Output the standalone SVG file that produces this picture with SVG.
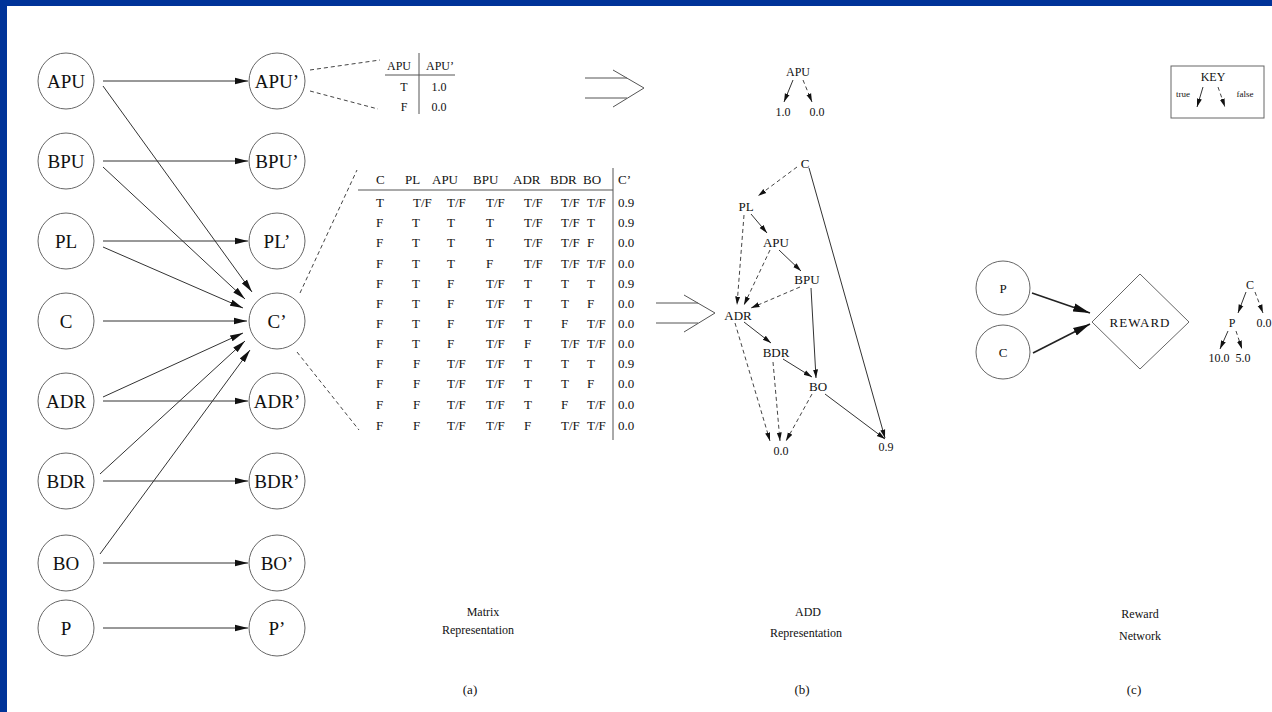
<svg xmlns="http://www.w3.org/2000/svg" width="1272" height="712" viewBox="0 0 1272 712">
<defs>
<marker id="ah" markerUnits="userSpaceOnUse" markerWidth="14" markerHeight="8" refX="13" refY="4" orient="auto"><path d="M0,0.8 L13,4 L0,7.2 z" fill="#111"/></marker>
<marker id="sm" markerUnits="userSpaceOnUse" markerWidth="9" markerHeight="7" refX="8.5" refY="3.5" orient="auto"><path d="M0,1 L8.5,3.5 L0,6 z" fill="#111"/></marker>
<marker id="big" markerUnits="userSpaceOnUse" markerWidth="18" markerHeight="10" refX="17" refY="5" orient="auto"><path d="M0,0.8 L17,5 L0,9.2 z" fill="#111"/></marker>
</defs>
<style>
.nd{fill:#fff;stroke:#666;stroke-width:1}
.lb{font-family:'Liberation Serif',serif;font-size:19px;fill:#111;text-anchor:middle}
.e{stroke:#333;stroke-width:1;fill:none}
.eb{stroke:#222;stroke-width:1.6;fill:none}
.d{stroke:#444;stroke-width:1;stroke-dasharray:4,3;fill:none}
.t{font-family:'Liberation Serif',serif;font-size:13px;fill:#111}
.a{font-family:'Liberation Serif',serif;font-size:13px;fill:#111;text-anchor:middle}
.s{font-family:'Liberation Serif',serif;font-size:12px;fill:#111;text-anchor:middle}
.k{font-family:'Liberation Serif',serif;font-size:9px;fill:#111;text-anchor:middle}
.g{stroke:#555;stroke-width:1;fill:none}
</style>
<rect x="0" y="0" width="1272" height="712" fill="#003399"/>
<rect x="7" y="6" width="1265" height="706" fill="#fff"/>

<!-- left column nodes -->
<g id="n-APU"><circle class="nd" cx="66" cy="81" r="28"/><text class="lb" x="66" y="88">APU</text></g>
<g id="n-BPU"><circle class="nd" cx="66" cy="161" r="28"/><text class="lb" x="66" y="168">BPU</text></g>
<g id="n-PL"><circle class="nd" cx="66" cy="241" r="28"/><text class="lb" x="66" y="248">PL</text></g>
<g id="n-C"><circle class="nd" cx="66" cy="321" r="28"/><text class="lb" x="66" y="328">C</text></g>
<g id="n-ADR"><circle class="nd" cx="66" cy="401" r="28"/><text class="lb" x="66" y="408">ADR</text></g>
<g id="n-BDR"><circle class="nd" cx="66" cy="481" r="28"/><text class="lb" x="66" y="488">BDR</text></g>
<g id="n-BO"><circle class="nd" cx="66" cy="563" r="28"/><text class="lb" x="66" y="570">BO</text></g>
<g id="n-P"><circle class="nd" cx="66" cy="628" r="28"/><text class="lb" x="66" y="635">P</text></g>

<!-- right column nodes -->
<g id="n-APU2"><circle class="nd" cx="277" cy="81" r="28"/><text class="lb" x="277" y="88">APU’</text></g>
<g id="n-BPU2"><circle class="nd" cx="277" cy="161" r="28"/><text class="lb" x="277" y="168">BPU’</text></g>
<g id="n-PL2"><circle class="nd" cx="277" cy="241" r="28"/><text class="lb" x="277" y="248">PL’</text></g>
<g id="n-C2"><circle class="nd" cx="277" cy="321" r="28"/><text class="lb" x="277" y="328">C’</text></g>
<g id="n-ADR2"><circle class="nd" cx="277" cy="401" r="28"/><text class="lb" x="277" y="408">ADR’</text></g>
<g id="n-BDR2"><circle class="nd" cx="277" cy="481" r="28"/><text class="lb" x="277" y="488">BDR’</text></g>
<g id="n-BO2"><circle class="nd" cx="277" cy="563" r="28"/><text class="lb" x="277" y="570">BO’</text></g>
<g id="n-P2"><circle class="nd" cx="277" cy="628" r="28"/><text class="lb" x="277" y="635">P’</text></g>

<!-- connectors of the DBN -->
<g id="connectors">
<line class="e" x1="103" y1="81" x2="248" y2="81" marker-end="url(#ah)"/>
<line class="e" x1="103" y1="161" x2="248" y2="161" marker-end="url(#ah)"/>
<line class="e" x1="103" y1="241" x2="248" y2="241" marker-end="url(#ah)"/>
<line class="e" x1="103" y1="321" x2="247" y2="321" marker-end="url(#ah)"/>
<line class="e" x1="103" y1="401" x2="248" y2="401" marker-end="url(#ah)"/>
<line class="e" x1="103" y1="481" x2="248" y2="481" marker-end="url(#ah)"/>
<line class="e" x1="103" y1="563" x2="248" y2="563" marker-end="url(#ah)"/>
<line class="e" x1="103" y1="628" x2="248" y2="628" marker-end="url(#ah)"/>
<line class="e" x1="103" y1="86" x2="252" y2="292" marker-end="url(#ah)"/>
<line class="e" x1="103" y1="167" x2="245" y2="299" marker-end="url(#ah)"/>
<line class="e" x1="103" y1="247" x2="243" y2="308" marker-end="url(#ah)"/>
<line class="e" x1="103" y1="397" x2="243" y2="333" marker-end="url(#ah)"/>
<line class="e" x1="100" y1="474" x2="245" y2="341" marker-end="url(#ah)"/>
<line class="e" x1="100" y1="554" x2="250" y2="350" marker-end="url(#ah)"/>
<line class="d" x1="310" y1="70" x2="380" y2="60"/>
<line class="d" x1="310" y1="91" x2="378" y2="109"/>
<line class="d" x1="300" y1="293" x2="357" y2="170"/>
<line class="d" x1="297" y1="352" x2="359" y2="430"/>
</g>

<!-- small APU table -->
<g id="apu-table">
<text class="s" x="399" y="70" font-size="12.5">APU</text>
<text class="s" x="440" y="70" font-size="12.5">APU’</text>
<line class="g" x1="385" y1="75" x2="455" y2="75" stroke-width="1.5"/>
<line class="g" x1="419" y1="53" x2="419" y2="114"/>
<text class="s" x="404" y="91" font-size="12.5">T</text>
<text class="s" x="439" y="91" font-size="12.5">1.0</text>
<text class="s" x="404" y="111" font-size="12.5">F</text>
<text class="s" x="439" y="111" font-size="12.5">0.0</text>
</g>

<!-- double arrows -->
<g id="implies-1" class="g"><line x1="585" y1="78" x2="627" y2="78"/><line x1="585" y1="98" x2="627" y2="98"/><polyline points="613,70 644,88 613,107"/></g>
<g id="implies-2" class="g"><line x1="656" y1="303" x2="698" y2="303"/><line x1="656" y1="323" x2="698" y2="323"/><polyline points="684,295 715,313 684,332"/></g>

<!-- matrix table -->
<g id="matrix">
<line class="g" x1="358" y1="190" x2="613" y2="190" stroke-width="1.5"/>
<line class="g" x1="613" y1="168" x2="613" y2="440"/>
<text class="t" y="184"><tspan x="376">C</tspan><tspan x="405">PL</tspan><tspan x="432">APU</tspan><tspan x="473">BPU</tspan><tspan x="513">ADR</tspan><tspan x="550">BDR</tspan><tspan x="583">BO</tspan><tspan x="618">C’</tspan></text>
<text class="t" y="207"><tspan x="376">T</tspan><tspan x="413">T/F</tspan><tspan x="447">T/F</tspan><tspan x="486">T/F</tspan><tspan x="524">T/F</tspan><tspan x="561">T/F</tspan><tspan x="587">T/F</tspan><tspan x="618">0.9</tspan></text>
<text class="t" y="227"><tspan x="376">F</tspan><tspan x="412">T</tspan><tspan x="447">T</tspan><tspan x="486">T</tspan><tspan x="524">T/F</tspan><tspan x="561">T/F</tspan><tspan x="587">T</tspan><tspan x="618">0.9</tspan></text>
<text class="t" y="247"><tspan x="376">F</tspan><tspan x="412">T</tspan><tspan x="447">T</tspan><tspan x="486">T</tspan><tspan x="524">T/F</tspan><tspan x="561">T/F</tspan><tspan x="587">F</tspan><tspan x="618">0.0</tspan></text>
<text class="t" y="268"><tspan x="376">F</tspan><tspan x="412">T</tspan><tspan x="447">T</tspan><tspan x="486">F</tspan><tspan x="524">T/F</tspan><tspan x="561">T/F</tspan><tspan x="587">T/F</tspan><tspan x="618">0.0</tspan></text>
<text class="t" y="288"><tspan x="376">F</tspan><tspan x="412">T</tspan><tspan x="447">F</tspan><tspan x="486">T/F</tspan><tspan x="524">T</tspan><tspan x="561">T</tspan><tspan x="587">T</tspan><tspan x="618">0.9</tspan></text>
<text class="t" y="308"><tspan x="376">F</tspan><tspan x="412">T</tspan><tspan x="447">F</tspan><tspan x="486">T/F</tspan><tspan x="524">T</tspan><tspan x="561">T</tspan><tspan x="587">F</tspan><tspan x="618">0.0</tspan></text>
<text class="t" y="328"><tspan x="376">F</tspan><tspan x="412">T</tspan><tspan x="447">F</tspan><tspan x="486">T/F</tspan><tspan x="524">T</tspan><tspan x="561">F</tspan><tspan x="587">T/F</tspan><tspan x="618">0.0</tspan></text>
<text class="t" y="348"><tspan x="376">F</tspan><tspan x="412">T</tspan><tspan x="447">F</tspan><tspan x="486">T/F</tspan><tspan x="524">F</tspan><tspan x="561">T/F</tspan><tspan x="587">T/F</tspan><tspan x="618">0.0</tspan></text>
<text class="t" y="368"><tspan x="376">F</tspan><tspan x="413">F</tspan><tspan x="447">T/F</tspan><tspan x="486">T/F</tspan><tspan x="524">T</tspan><tspan x="561">T</tspan><tspan x="587">T</tspan><tspan x="618">0.9</tspan></text>
<text class="t" y="388"><tspan x="376">F</tspan><tspan x="413">F</tspan><tspan x="447">T/F</tspan><tspan x="486">T/F</tspan><tspan x="524">T</tspan><tspan x="561">T</tspan><tspan x="587">F</tspan><tspan x="618">0.0</tspan></text>
<text class="t" y="409"><tspan x="376">F</tspan><tspan x="413">F</tspan><tspan x="447">T/F</tspan><tspan x="486">T/F</tspan><tspan x="524">T</tspan><tspan x="561">F</tspan><tspan x="587">T/F</tspan><tspan x="618">0.0</tspan></text>
<text class="t" y="430"><tspan x="376">F</tspan><tspan x="413">F</tspan><tspan x="447">T/F</tspan><tspan x="486">T/F</tspan><tspan x="524">F</tspan><tspan x="561">T/F</tspan><tspan x="587">T/F</tspan><tspan x="618">0.0</tspan></text>
</g>

<!-- small APU ADD -->
<g id="add-apu">
<text class="s" x="798" y="76" font-size="13">APU</text>
<text class="s" x="783" y="116">1.0</text>
<text class="s" x="817" y="116">0.0</text>
<line class="e" x1="793" y1="80" x2="784" y2="102" marker-end="url(#sm)"/>
<line class="d" x1="803" y1="80" x2="812" y2="102" stroke-dasharray="3,2" marker-end="url(#sm)"/>
</g>

<!-- KEY -->
<g id="key">
<rect x="1171" y="66" width="93" height="52" fill="#fff" stroke="#666" stroke-width="1"/>
<text class="s" x="1213" y="81" font-size="13">KEY</text>
<text class="k" x="1183" y="97">true</text>
<text class="k" x="1245" y="97">false</text>
<line class="e" x1="1203" y1="87" x2="1197" y2="107" marker-end="url(#sm)"/>
<line class="d" x1="1218" y1="87" x2="1225" y2="107" stroke-dasharray="3,2" marker-end="url(#sm)"/>
</g>

<!-- ADD for C' -->
<g id="add-C"><text class="a" x="805" y="168">C</text></g>
<g id="add-PL"><text class="a" x="746" y="211">PL</text></g>
<g id="add-APU"><text class="a" x="776" y="247">APU</text></g>
<g id="add-BPU"><text class="a" x="807" y="284">BPU</text></g>
<g id="add-ADR"><text class="a" x="738" y="320">ADR</text></g>
<g id="add-BDR"><text class="a" x="776" y="357">BDR</text></g>
<g id="add-BO"><text class="a" x="818" y="391">BO</text></g>
<g id="add-00"><text class="s" x="781" y="455">0.0</text></g>
<g id="add-09"><text class="s" x="886" y="451">0.9</text></g>
<g id="add-connectors">
<line class="d" x1="797" y1="167" x2="758" y2="196" marker-end="url(#sm)"/>
<line class="e" x1="809" y1="168" x2="885" y2="438" marker-end="url(#sm)"/>
<line class="e" x1="751" y1="214" x2="767" y2="233" marker-end="url(#sm)"/>
<line class="d" x1="744" y1="215" x2="737" y2="305" marker-end="url(#sm)"/>
<line class="e" x1="779" y1="250" x2="801" y2="271" marker-end="url(#sm)"/>
<line class="d" x1="770" y1="250" x2="744" y2="305" marker-end="url(#sm)"/>
<line class="d" x1="800" y1="287" x2="751" y2="308" marker-end="url(#sm)"/>
<line class="e" x1="811" y1="288" x2="816" y2="378" marker-end="url(#sm)"/>
<line class="e" x1="744" y1="322" x2="771" y2="343" marker-end="url(#sm)"/>
<line class="d" x1="735" y1="323" x2="770" y2="441" marker-end="url(#sm)"/>
<line class="e" x1="783" y1="359" x2="812" y2="377" marker-end="url(#sm)"/>
<line class="d" x1="773" y1="362" x2="780" y2="441" marker-end="url(#sm)"/>
<line class="d" x1="812" y1="394" x2="786" y2="441" marker-end="url(#sm)"/>
<line class="e" x1="825" y1="394" x2="885" y2="439" marker-end="url(#sm)"/>
</g>

<!-- reward network -->
<g id="r-P"><circle class="nd" cx="1003" cy="288" r="27"/><text class="a" x="1003" y="293" font-size="14">P</text></g>
<g id="r-C"><circle class="nd" cx="1003" cy="352" r="27"/><text class="a" x="1003" y="357" font-size="14">C</text></g>
<g id="r-REWARD"><polygon points="1092,322 1140,274 1189,322 1140,369" fill="#fff" stroke="#666" stroke-width="1"/><text class="a" x="1140" y="327" font-size="12" letter-spacing="1">REWARD</text></g>
<g id="reward-connectors">
<line class="eb" x1="1032" y1="293" x2="1090" y2="313" marker-end="url(#big)"/>
<line class="eb" x1="1033" y1="353" x2="1090" y2="324" marker-end="url(#big)"/>
</g>
<g id="reward-add">
<text class="s" x="1250" y="289">C</text>
<text class="s" x="1232" y="327">P</text>
<text class="s" x="1264" y="327" text-anchor="start">0.0</text>
<text class="s" x="1219" y="362">10.0</text>
<text class="s" x="1243" y="362">5.0</text>
<line class="e" x1="1246" y1="292" x2="1238" y2="313" marker-end="url(#sm)"/>
<line class="d" x1="1255" y1="292" x2="1263" y2="313" stroke-dasharray="3,2" marker-end="url(#sm)"/>
<line class="e" x1="1228" y1="331" x2="1220" y2="349" marker-end="url(#sm)"/>
<line class="d" x1="1236" y1="331" x2="1242" y2="349" stroke-dasharray="3,2" marker-end="url(#sm)"/>
</g>

<!-- captions -->
<g id="captions">
<text class="s" x="483" y="616">Matrix</text>
<text class="s" x="478" y="634">Representation</text>
<text class="a" x="470" y="694">(a)</text>
<text class="s" x="808" y="616">ADD</text>
<text class="s" x="806" y="637">Representation</text>
<text class="a" x="802" y="694">(b)</text>
<text class="s" x="1140" y="618">Reward</text>
<text class="s" x="1140" y="640">Network</text>
<text class="a" x="1134" y="694">(c)</text>
</g>
</svg>
